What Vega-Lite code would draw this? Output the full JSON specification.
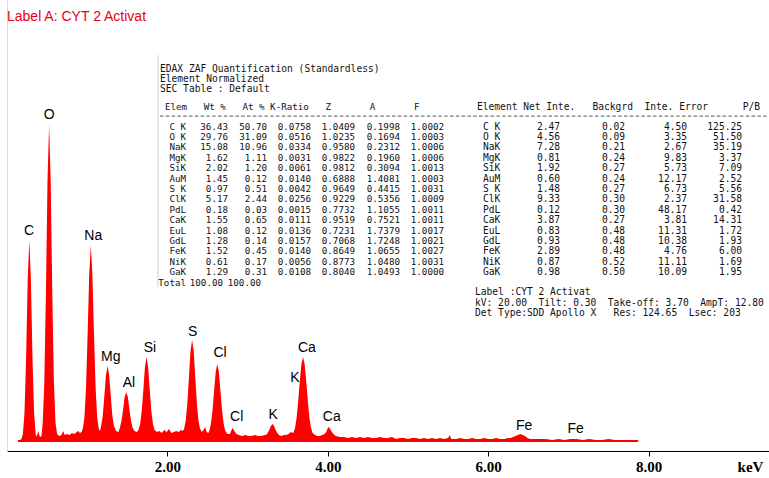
{
  "$schema": "https://vega.github.io/schema/vega-lite/v6.json",
  "width": 762,
  "height": 451,
  "autosize": {"type": "none"},
  "padding": {"left": 7, "top": 0, "right": 0, "bottom": 27},
  "background": "white",
  "config": {"view": {"stroke": null}},
  "datasets": {
    "spectrum": [
      {"e":0.137,"c":2},{"e":0.16,"c":2},{"e":0.18,"c":3},{"e":0.198,"c":8},{"e":0.218,"c":29},{"e":0.238,"c":83},{"e":0.258,"c":162},{"e":0.278,"c":202},{"e":0.298,"c":162},{"e":0.318,"c":83},{"e":0.338,"c":29},{"e":0.358,"c":8},
      {"e":0.37,"c":5},{"e":0.39,"c":11},{"e":0.41,"c":5},{"e":0.43,"c":6},
      {"e":0.445,"c":19},{"e":0.465,"c":59},{"e":0.485,"c":147},{"e":0.505,"c":261},{"e":0.525,"c":317},{"e":0.545,"c":261},{"e":0.565,"c":147},{"e":0.585,"c":59},{"e":0.605,"c":19},{"e":0.625,"c":8},
      {"e":0.65,"c":6},{"e":0.68,"c":7},{"e":0.70,"c":11},{"e":0.72,"c":7},{"e":0.75,"c":8},{"e":0.78,"c":7},{"e":0.81,"c":9},{"e":0.84,"c":8},{"e":0.87,"c":10},{"e":0.89,"c":11},{"e":0.91,"c":9},{"e":0.93,"c":10},
      {"e":0.945,"c":13},{"e":0.965,"c":24},{"e":0.985,"c":54},{"e":1.005,"c":107},{"e":1.025,"c":167},{"e":1.045,"c":197},{"e":1.065,"c":167},{"e":1.085,"c":107},{"e":1.105,"c":54},{"e":1.125,"c":24},{"e":1.145,"c":13},{"e":1.16,"c":11},
      {"e":1.174,"c":16},{"e":1.194,"c":26},{"e":1.214,"c":46},{"e":1.234,"c":67},{"e":1.254,"c":76},{"e":1.274,"c":67},{"e":1.294,"c":46},{"e":1.314,"c":26},{"e":1.334,"c":16},{"e":1.36,"c":11},{"e":1.39,"c":10},
      {"e":1.407,"c":14},{"e":1.427,"c":21},{"e":1.447,"c":32},{"e":1.467,"c":45},{"e":1.487,"c":50},{"e":1.507,"c":45},{"e":1.527,"c":32},{"e":1.547,"c":21},{"e":1.567,"c":14},{"e":1.59,"c":11},{"e":1.62,"c":10},
      {"e":1.64,"c":12},{"e":1.66,"c":18},{"e":1.68,"c":31},{"e":1.70,"c":52},{"e":1.72,"c":75},{"e":1.74,"c":85},{"e":1.76,"c":75},{"e":1.78,"c":52},{"e":1.80,"c":31},{"e":1.82,"c":18},{"e":1.84,"c":12},
      {"e":1.87,"c":10},{"e":1.90,"c":11},{"e":1.93,"c":9},{"e":1.96,"c":12},{"e":1.99,"c":10},{"e":2.02,"c":13},{"e":2.05,"c":9},{"e":2.08,"c":10},{"e":2.11,"c":11},{"e":2.14,"c":10},{"e":2.17,"c":12},{"e":2.19,"c":11},
      {"e":2.208,"c":13},{"e":2.228,"c":21},{"e":2.248,"c":38},{"e":2.268,"c":64},{"e":2.288,"c":91},{"e":2.308,"c":102},{"e":2.328,"c":91},{"e":2.348,"c":64},{"e":2.368,"c":38},{"e":2.388,"c":21},{"e":2.408,"c":13},
      {"e":2.43,"c":10},{"e":2.45,"c":12},{"e":2.47,"c":15},{"e":2.49,"c":10},{"e":2.51,"c":9},
      {"e":2.522,"c":11},{"e":2.542,"c":18},{"e":2.562,"c":31},{"e":2.582,"c":51},{"e":2.602,"c":70},{"e":2.622,"c":78},{"e":2.642,"c":70},{"e":2.662,"c":51},{"e":2.682,"c":31},{"e":2.702,"c":18},{"e":2.722,"c":11},
      {"e":2.75,"c":8},{"e":2.78,"c":8},{"e":2.80,"c":12},{"e":2.815,"c":14},{"e":2.835,"c":11},{"e":2.86,"c":8},{"e":2.89,"c":7},{"e":2.93,"c":6},{"e":2.97,"c":7},{"e":3.01,"c":6},{"e":3.05,"c":6},{"e":3.09,"c":7},{"e":3.13,"c":6},{"e":3.17,"c":6},{"e":3.21,"c":7},
      {"e":3.23,"c":7},{"e":3.25,"c":9},{"e":3.27,"c":12},{"e":3.29,"c":16},{"e":3.313,"c":18},{"e":3.33,"c":16},{"e":3.35,"c":12},{"e":3.37,"c":9},{"e":3.39,"c":7},{"e":3.42,"c":6},{"e":3.45,"c":7},{"e":3.48,"c":7},{"e":3.51,"c":8},{"e":3.54,"c":10},
      {"e":3.571,"c":9},{"e":3.591,"c":14},{"e":3.611,"c":24},{"e":3.631,"c":41},{"e":3.651,"c":61},{"e":3.671,"c":78},{"e":3.691,"c":85},{"e":3.711,"c":78},{"e":3.731,"c":61},{"e":3.751,"c":41},{"e":3.771,"c":24},{"e":3.791,"c":14},{"e":3.811,"c":9},
      {"e":3.84,"c":7},{"e":3.87,"c":6},{"e":3.90,"c":6},{"e":3.93,"c":7},{"e":3.96,"c":8},{"e":3.98,"c":10},{"e":4.00,"c":14},{"e":4.013,"c":15},{"e":4.03,"c":13},{"e":4.05,"c":10},{"e":4.07,"c":8},{"e":4.10,"c":6},
      {"e":4.15,"c":5},{"e":4.2,"c":5},{"e":4.25,"c":4},{"e":4.3,"c":5},{"e":4.35,"c":4},{"e":4.4,"c":5},{"e":4.45,"c":4},{"e":4.5,"c":5},{"e":4.55,"c":4},{"e":4.6,"c":4},{"e":4.65,"c":5},{"e":4.7,"c":4},{"e":4.75,"c":4},{"e":4.8,"c":5},{"e":4.85,"c":3},{"e":4.9,"c":4},{"e":4.95,"c":4},
      {"e":5.0,"c":3},{"e":5.05,"c":4},{"e":5.1,"c":4},{"e":5.15,"c":3},{"e":5.2,"c":4},{"e":5.25,"c":3},{"e":5.3,"c":4},{"e":5.35,"c":3},{"e":5.4,"c":4},{"e":5.45,"c":3},{"e":5.5,"c":4},{"e":5.52,"c":7},{"e":5.54,"c":3},{"e":5.6,"c":3},{"e":5.65,"c":4},{"e":5.7,"c":3},{"e":5.75,"c":3},{"e":5.8,"c":4},{"e":5.85,"c":3},{"e":5.9,"c":3},{"e":5.95,"c":4},
      {"e":6.0,"c":3},{"e":6.05,"c":3},{"e":6.1,"c":4},{"e":6.15,"c":3},{"e":6.2,"c":3},{"e":6.25,"c":4},{"e":6.28,"c":4},{"e":6.31,"c":5},{"e":6.34,"c":6},{"e":6.37,"c":7},{"e":6.40,"c":8},{"e":6.43,"c":7},{"e":6.46,"c":6},{"e":6.49,"c":4},{"e":6.52,"c":3},
      {"e":6.58,"c":3},{"e":6.65,"c":3},{"e":6.72,"c":3},{"e":6.8,"c":2},{"e":6.88,"c":3},{"e":6.95,"c":2},{"e":7.02,"c":3},{"e":7.06,"c":3},{"e":7.1,"c":3},{"e":7.18,"c":2},{"e":7.26,"c":3},{"e":7.34,"c":2},{"e":7.42,"c":2},{"e":7.5,"c":3},{"e":7.58,"c":2},{"e":7.66,"c":2},{"e":7.74,"c":2},{"e":7.82,"c":2},{"e":7.87,"c":2}
    ],
    "peaks": [
      {"el":"C","e":0.274,"c":211},{"el":"O","e":0.527,"c":327},{"el":"Na","e":1.076,"c":206},{"el":"Mg","e":1.293,"c":85},{"el":"Al","e":1.521,"c":59},{"el":"Si","e":1.783,"c":94},{"el":"S","e":2.315,"c":110},{"el":"Cl","e":2.656,"c":89},{"el":"Cl","e":2.864,"c":25},{"el":"K","e":3.32,"c":27},{"el":"K","e":3.59,"c":64},{"el":"Ca","e":3.74,"c":94},{"el":"Ca","e":4.05,"c":25},{"el":"Fe","e":6.447,"c":16},{"el":"Fe","e":7.09,"c":13}
    ],
    "table": [
      {"el":"C K","wt":"36.43","at":"50.70","kr":"0.0758","z":"1.0409","a":"0.1998","f":"1.0002","net":"2.47","bkg":"0.02","err":"4.50","pb":"125.25"},
      {"el":"O K","wt":"29.76","at":"31.09","kr":"0.0516","z":"1.0235","a":"0.1694","f":"1.0003","net":"4.56","bkg":"0.09","err":"3.35","pb":"51.50"},
      {"el":"NaK","wt":"15.08","at":"10.96","kr":"0.0334","z":"0.9580","a":"0.2312","f":"1.0006","net":"7.28","bkg":"0.21","err":"2.67","pb":"35.19"},
      {"el":"MgK","wt":"1.62","at":"1.11","kr":"0.0031","z":"0.9822","a":"0.1960","f":"1.0006","net":"0.81","bkg":"0.24","err":"9.83","pb":"3.37"},
      {"el":"SiK","wt":"2.02","at":"1.20","kr":"0.0061","z":"0.9812","a":"0.3094","f":"1.0013","net":"1.92","bkg":"0.27","err":"5.73","pb":"7.09"},
      {"el":"AuM","wt":"1.45","at":"0.12","kr":"0.0140","z":"0.6888","a":"1.4081","f":"1.0003","net":"0.60","bkg":"0.24","err":"12.17","pb":"2.52"},
      {"el":"S K","wt":"0.97","at":"0.51","kr":"0.0042","z":"0.9649","a":"0.4415","f":"1.0031","net":"1.48","bkg":"0.27","err":"6.73","pb":"5.56"},
      {"el":"ClK","wt":"5.17","at":"2.44","kr":"0.0256","z":"0.9229","a":"0.5356","f":"1.0009","net":"9.33","bkg":"0.30","err":"2.37","pb":"31.58"},
      {"el":"PdL","wt":"0.18","at":"0.03","kr":"0.0015","z":"0.7732","a":"1.1055","f":"1.0011","net":"0.12","bkg":"0.30","err":"48.17","pb":"0.42"},
      {"el":"CaK","wt":"1.55","at":"0.65","kr":"0.0111","z":"0.9519","a":"0.7521","f":"1.0011","net":"3.87","bkg":"0.27","err":"3.81","pb":"14.31"},
      {"el":"EuL","wt":"1.08","at":"0.12","kr":"0.0136","z":"0.7231","a":"1.7379","f":"1.0017","net":"0.83","bkg":"0.48","err":"11.31","pb":"1.72"},
      {"el":"GdL","wt":"1.28","at":"0.14","kr":"0.0157","z":"0.7068","a":"1.7248","f":"1.0021","net":"0.93","bkg":"0.48","err":"10.38","pb":"1.93"},
      {"el":"FeK","wt":"1.52","at":"0.45","kr":"0.0140","z":"0.8649","a":"1.0655","f":"1.0027","net":"2.89","bkg":"0.48","err":"4.76","pb":"6.00"},
      {"el":"NiK","wt":"0.61","at":"0.17","kr":"0.0056","z":"0.8773","a":"1.0480","f":"1.0031","net":"0.87","bkg":"0.52","err":"11.11","pb":"1.69"},
      {"el":"GaK","wt":"1.29","at":"0.31","kr":"0.0108","z":"0.8040","a":"1.0493","f":"1.0000","net":"0.98","bkg":"0.50","err":"10.09","pb":"1.95"},
      {"el":"Total","wt":"100.00","at":"100.00"}
    ],
    "lines": [
      {"el":"t1","block":"title","t":"EDAX ZAF Quantification (Standardless)"},
      {"el":"t2","block":"title","t":"Element Normalized"},
      {"el":"t3","block":"title","t":"SEC Table : Default"},
      {"el":"hdr","block":"quant","t":"Elem\u00a0\u00a0\u00a0Wt %\u00a0\u00a0\u00a0At % K-Ratio\u00a0\u00a0\u00a0Z\u00a0\u00a0\u00a0\u00a0\u00a0\u00a0\u00a0A\u00a0\u00a0\u00a0\u00a0\u00a0\u00a0\u00a0F"},
      {"el":"hdr","block":"stats","t":"Element Net Inte.\u00a0\u00a0\u00a0Backgrd\u00a0\u00a0Inte. Error\u00a0\u00a0\u00a0\u00a0\u00a0\u00a0P/B"},
      {"el":"Label","block":"info","t":"Label :CYT 2 Activat"},
      {"el":"kV","block":"info","t":"kV: 20.00\u00a0\u00a0Tilt: 0.30\u00a0\u00a0Take-off: 3.70\u00a0\u00a0AmpT: 12.80"},
      {"el":"Det","block":"info","t":"Det Type:SDD Apollo X\u00a0\u00a0\u00a0Res: 124.65\u00a0\u00a0Lsec: 203"}
    ]
  },
  "layer": [
    {
      "layer": [
        {
          "data": {"name": "spectrum"},
          "mark": {"type": "area", "color": "#ff0000", "interpolate": "linear"},
          "encoding": {
            "x": {"field": "e", "type": "quantitative", "scale": {"domain": [0, 9.5012], "nice": false, "zero": false},
              "axis": {"values": [2, 4, 6, 8], "format": ".2f", "labelFont": "Liberation Serif", "labelFontWeight": "bold", "labelFontSize": 15, "labelColor": "#000", "domainColor": "#000", "domainWidth": 1, "tickColor": "#000", "tickSize": 5, "labelPadding": 3, "grid": false,
                "title": "keV", "titleFont": "Liberation Serif", "titleFontWeight": "bold", "titleFontSize": 15, "titleColor": "#000", "titleX": 743, "titleY": 15, "titleAlign": "center", "titleBaseline": "middle"}},
            "y": {"field": "c", "type": "quantitative", "scale": {"domain": [-9, 442], "nice": false, "zero": false},
              "axis": {"domain": true, "domainColor": "#dcdcdc", "ticks": false, "labels": false, "title": null, "grid": false}},
            "y2": {"datum": 0}
          }
        },
        {
          "data": {"name": "peaks"},
          "mark": {"type": "text", "font": "Liberation Sans", "fontSize": 14, "color": "#000", "align": "center", "baseline": "middle"},
          "encoding": {
            "x": {"field": "e", "type": "quantitative"},
            "y": {"field": "c", "type": "quantitative"},
            "text": {"field": "el", "type": "nominal"}
          }
        },
        {
          "data": {"values": [{"t": "Label A: CYT 2 Activat"}]},
          "mark": {"type": "text", "font": "Liberation Sans", "fontSize": 14, "color": "#e60012", "align": "left", "baseline": "middle"},
          "encoding": {
            "x": {"datum": 0, "type": "quantitative"},
            "y": {"datum": 425, "type": "quantitative"},
            "text": {"field": "t", "type": "nominal"}
          }
        },
        {
          "data": {"values": [{"k": "border"}]},
          "mark": {"type": "rule", "color": "#d2d2d2", "strokeWidth": 1},
          "encoding": {
            "x": {"datum": 1.8828, "type": "quantitative"},
            "y": {"datum": 387, "type": "quantitative"},
            "y2": {"datum": 155}
          }
        }
      ]
    },
    {
      "data": {"name": "table"},
      "encoding": {
        "y": {"field": "el", "type": "nominal", "axis": null,
          "scale": {"type": "point", "padding": 0, "range": [64.1, 313.7],
            "domain": ["t1", "t2", "t3", "gap", "hdr", "dash", "C K", "O K", "NaK", "MgK", "SiK", "AuM", "S K", "ClK", "PdL", "CaK", "EuL", "GdL", "FeK", "NiK", "GaK", "Total", "Label", "kV", "Det"]}}
      },
      "layer": [
        {"mark": {"type": "text", "align": "right", "baseline": "middle", "font": "DejaVu Sans Mono", "fontSize": 9.2, "color": "#111"},
         "encoding": {"x": {"datum": 2.2319, "type": "quantitative"}, "text": {"field": "el", "type": "nominal"}}},
        {"transform": [{"filter": "datum.el != 'Total'"}],
         "mark": {"type": "text", "align": "right", "baseline": "middle", "font": "DejaVu Sans Mono", "fontSize": 9.2, "color": "#111"},
         "encoding": {"x": {"datum": 2.7556, "type": "quantitative"}, "text": {"field": "wt", "type": "nominal"}}},
        {"transform": [{"filter": "datum.el == 'Total'"}],
         "mark": {"type": "text", "align": "right", "baseline": "middle", "font": "DejaVu Sans Mono", "fontSize": 9.2, "color": "#111"},
         "encoding": {"x": {"datum": 2.6933, "type": "quantitative"}, "text": {"field": "wt", "type": "nominal"}}},
        {"transform": [{"filter": "datum.el != 'Total'"}],
         "mark": {"type": "text", "align": "right", "baseline": "middle", "font": "DejaVu Sans Mono", "fontSize": 9.2, "color": "#111"},
         "encoding": {"x": {"datum": 3.2419, "type": "quantitative"}, "text": {"field": "at", "type": "nominal"}}},
        {"transform": [{"filter": "datum.el == 'Total'"}],
         "mark": {"type": "text", "align": "right", "baseline": "middle", "font": "DejaVu Sans Mono", "fontSize": 9.2, "color": "#111"},
         "encoding": {"x": {"datum": 3.1671, "type": "quantitative"}, "text": {"field": "at", "type": "nominal"}}},
        {"transform": [{"filter": "isValid(datum.kr)"}],
         "mark": {"type": "text", "align": "right", "baseline": "middle", "font": "DejaVu Sans Mono", "fontSize": 9.2, "color": "#111"},
         "encoding": {"x": {"datum": 3.7905, "type": "quantitative"}, "text": {"field": "kr", "type": "nominal"}}},
        {"transform": [{"filter": "isValid(datum.z)"}],
         "mark": {"type": "text", "align": "right", "baseline": "middle", "font": "DejaVu Sans Mono", "fontSize": 9.2, "color": "#111"},
         "encoding": {"x": {"datum": 4.3392, "type": "quantitative"}, "text": {"field": "z", "type": "nominal"}}},
        {"transform": [{"filter": "isValid(datum.a)"}],
         "mark": {"type": "text", "align": "right", "baseline": "middle", "font": "DejaVu Sans Mono", "fontSize": 9.2, "color": "#111"},
         "encoding": {"x": {"datum": 4.8998, "type": "quantitative"}, "text": {"field": "a", "type": "nominal"}}},
        {"transform": [{"filter": "isValid(datum.f)"}],
         "mark": {"type": "text", "align": "right", "baseline": "middle", "font": "DejaVu Sans Mono", "fontSize": 9.2, "color": "#111"},
         "encoding": {"x": {"datum": 5.4489, "type": "quantitative"}, "text": {"field": "f", "type": "nominal"}}},
        {"transform": [{"filter": "isValid(datum.net)"}],
         "mark": {"type": "text", "align": "left", "baseline": "middle", "font": "DejaVu Sans Mono", "fontSize": 9.6, "color": "#111"},
         "encoding": {"x": {"datum": 5.9352, "type": "quantitative"}, "text": {"field": "el", "type": "nominal"}}},
        {"transform": [{"filter": "isValid(datum.net)"}],
         "mark": {"type": "text", "align": "right", "baseline": "middle", "font": "DejaVu Sans Mono", "fontSize": 9.6, "color": "#111"},
         "encoding": {"x": {"datum": 6.8953, "type": "quantitative"}, "text": {"field": "net", "type": "nominal"}}},
        {"transform": [{"filter": "isValid(datum.bkg)"}],
         "mark": {"type": "text", "align": "right", "baseline": "middle", "font": "DejaVu Sans Mono", "fontSize": 9.6, "color": "#111"},
         "encoding": {"x": {"datum": 7.7057, "type": "quantitative"}, "text": {"field": "bkg", "type": "nominal"}}},
        {"transform": [{"filter": "isValid(datum.err)"}],
         "mark": {"type": "text", "align": "right", "baseline": "middle", "font": "DejaVu Sans Mono", "fontSize": 9.6, "color": "#111"},
         "encoding": {"x": {"datum": 8.4788, "type": "quantitative"}, "text": {"field": "err", "type": "nominal"}}},
        {"transform": [{"filter": "isValid(datum.pb)"}],
         "mark": {"type": "text", "align": "right", "baseline": "middle", "font": "DejaVu Sans Mono", "fontSize": 9.6, "color": "#111"},
         "encoding": {"x": {"datum": 9.1646, "type": "quantitative"}, "text": {"field": "pb", "type": "nominal"}}},
        {"data": {"values": [{"k": "dash"}]},
         "mark": {"type": "rule", "color": "#555", "strokeWidth": 1, "strokeDash": [3.5, 2.3]},
         "encoding": {"x": {"datum": 1.9077, "type": "quantitative"}, "x2": {"datum": 9.4888}, "y": {"datum": "dash", "type": "nominal"}}},
        {"data": {"name": "lines"},
         "transform": [{"filter": "datum.block == 'title'"}],
         "mark": {"type": "text", "align": "left", "baseline": "middle", "dy": 4.5, "font": "DejaVu Sans Mono", "fontSize": 9.6, "color": "#111"},
         "encoding": {"x": {"datum": 1.9077, "type": "quantitative"}, "text": {"field": "t", "type": "nominal"}}},
        {"data": {"name": "lines"},
         "transform": [{"filter": "datum.block == 'quant'"}],
         "mark": {"type": "text", "align": "left", "baseline": "middle", "dy": 1.5, "font": "DejaVu Sans Mono", "fontSize": 9.2, "color": "#111"},
         "encoding": {"x": {"datum": 1.9701, "type": "quantitative"}, "text": {"field": "t", "type": "nominal"}}},
        {"data": {"name": "lines"},
         "transform": [{"filter": "datum.block == 'stats'"}],
         "mark": {"type": "text", "align": "left", "baseline": "middle", "dy": 1.5, "font": "DejaVu Sans Mono", "fontSize": 9.6, "color": "#111"},
         "encoding": {"x": {"datum": 5.8603, "type": "quantitative"}, "text": {"field": "t", "type": "nominal"}}},
        {"data": {"name": "lines"},
         "transform": [{"filter": "datum.block == 'info'"}],
         "mark": {"type": "text", "align": "left", "baseline": "middle", "dy": -0.5, "font": "DejaVu Sans Mono", "fontSize": 9.6, "color": "#111"},
         "encoding": {"x": {"datum": 5.8354, "type": "quantitative"}, "text": {"field": "t", "type": "nominal"}}}
      ]
    }
  ],
  "resolve": {"scale": {"y": "independent"}}
}
